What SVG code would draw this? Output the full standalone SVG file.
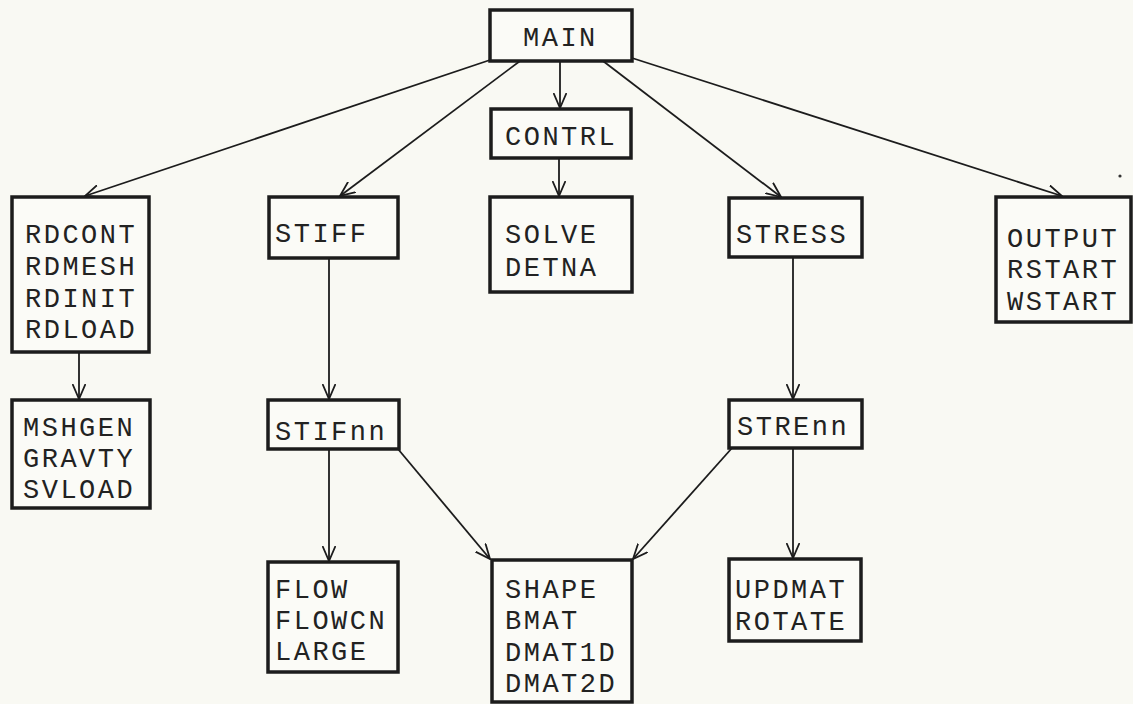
<svg xmlns="http://www.w3.org/2000/svg" width="1133" height="704" viewBox="0 0 1133 704">
<style>
.box{fill:#fbfbf7;stroke:#1c1c1c;stroke-width:3.5}
.t{font-family:"Liberation Mono","DejaVu Sans Mono",monospace;font-size:27px;letter-spacing:2.5px;fill:#222}
.c{fill:none;stroke:#1c1c1c;stroke-width:1.8}
</style>
<defs>
<marker id="ah" viewBox="0 0 16 14" refX="15" refY="7" markerWidth="16" markerHeight="14" markerUnits="userSpaceOnUse" orient="auto">
<path d="M0,0.5 L15,7 L0,13.5" fill="none" stroke="#1c1c1c" stroke-width="1.8"/>
</marker>
</defs>
<rect width="1133" height="704" fill="#f9f9f3"/>
<g id="connectors" class="c" marker-end="url(#ah)">
<line x1="490" y1="60" x2="85" y2="196"/>
<line x1="520" y1="61" x2="340" y2="196"/>
<line x1="560" y1="61" x2="560" y2="108"/>
<line x1="603" y1="61" x2="781" y2="197"/>
<line x1="632" y1="58" x2="1062" y2="196"/>
<line x1="559" y1="158" x2="559" y2="196"/>
<line x1="79" y1="352" x2="79" y2="399"/>
<line x1="329" y1="258" x2="329" y2="399"/>
<line x1="329" y1="449" x2="329" y2="561"/>
<line x1="398" y1="449" x2="490" y2="559"/>
<line x1="793" y1="257" x2="793" y2="399"/>
<line x1="793" y1="448" x2="793" y2="558"/>
<line x1="732" y1="448" x2="633" y2="559"/>
</g>
<g id="MAIN"><rect class="box" x="490" y="10" width="142" height="51"/><text class="t" x="523" y="46">MAIN</text></g>
<g id="CONTRL"><rect class="box" x="491" y="109" width="140" height="49"/><text class="t" x="505" y="145">CONTRL</text></g>
<g id="SOLVE"><rect class="box" x="490" y="197" width="142" height="95"/><text class="t" x="505" y="243">SOLVE</text><text class="t" x="505" y="276">DETNA</text></g>
<g id="RDCONT"><rect class="box" x="12" y="197" width="137" height="155"/><text class="t" x="25" y="243">RDCONT</text><text class="t" x="25" y="275">RDMESH</text><text class="t" x="25" y="307">RDINIT</text><text class="t" x="25" y="338">RDLOAD</text></g>
<g id="MSHGEN"><rect class="box" x="12" y="400" width="138" height="108"/><text class="t" x="23" y="436">MSHGEN</text><text class="t" x="23" y="467">GRAVTY</text><text class="t" x="23" y="498">SVLOAD</text></g>
<g id="STIFF"><rect class="box" x="269" y="197" width="129" height="61"/><text class="t" x="275" y="242">STIFF</text></g>
<g id="STIFnn"><rect class="box" x="268" y="400" width="131" height="49"/><text class="t" x="275" y="440">STIFnn</text></g>
<g id="FLOW"><rect class="box" x="268" y="562" width="130" height="110"/><text class="t" x="275" y="598">FLOW</text><text class="t" x="275" y="629">FLOWCN</text><text class="t" x="275" y="660">LARGE</text></g>
<g id="SHAPE"><rect class="box" x="492" y="560" width="140" height="142"/><text class="t" x="505" y="598">SHAPE</text><text class="t" x="505" y="629">BMAT</text><text class="t" x="505" y="661">DMAT1D</text><text class="t" x="505" y="692">DMAT2D</text></g>
<g id="STRESS"><rect class="box" x="729" y="198" width="133" height="59"/><text class="t" x="736" y="243">STRESS</text></g>
<g id="STREnn"><rect class="box" x="729" y="400" width="133" height="48"/><text class="t" x="737" y="435">STREnn</text></g>
<g id="UPDMAT"><rect class="box" x="729" y="559" width="132" height="82"/><text class="t" x="735" y="598">UPDMAT</text><text class="t" x="735" y="630">ROTATE</text></g>
<g id="OUTPUT"><rect class="box" x="996" y="197" width="135" height="125"/><text class="t" x="1007" y="247">OUTPUT</text><text class="t" x="1007" y="278">RSTART</text><text class="t" x="1007" y="310">WSTART</text></g>
<circle cx="1120" cy="176" r="1.6" fill="#333"/>
</svg>
